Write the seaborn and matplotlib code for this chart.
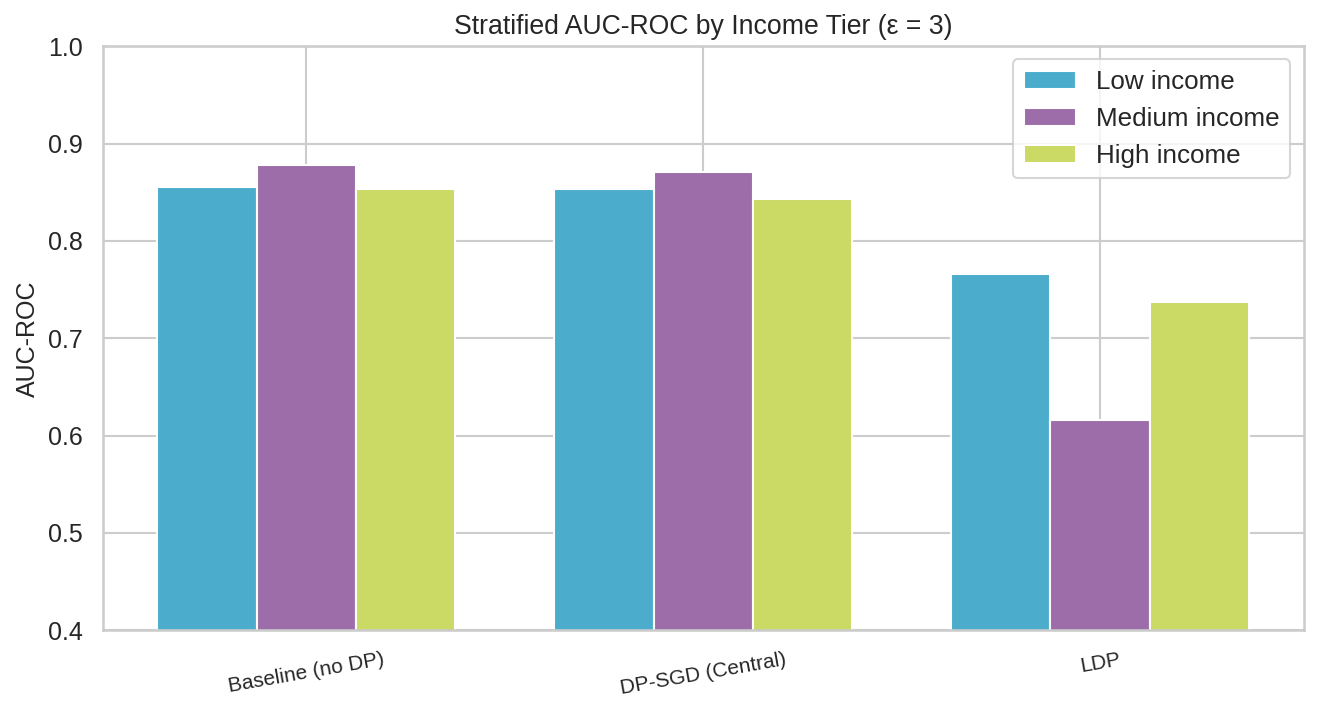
import pandas as pd
import seaborn as sns
import matplotlib.pyplot as plt

methods = ['Baseline (no DP)', 'DP-SGD (Central)', 'LDP']
tiers = ['Low income', 'Medium income', 'High income']
low_auc = [0.855, 0.853, 0.766]
medium_auc = [0.878, 0.871, 0.616]
high_auc = [0.853, 0.843, 0.737]
tier_colors = ['#4BACCC', '#9D6DAA', '#CBD965']

rows = []
for tier, vals in zip(tiers, [low_auc, medium_auc, high_auc]):
    for m, v in zip(methods, vals):
        rows.append({'Method': m, 'Tier': tier, 'AUC': v})
df = pd.DataFrame(rows)

sns.set_theme(style='whitegrid')
plt.rcParams['font.family'] = ['Liberation Sans', 'DejaVu Sans']

fig, ax = plt.subplots(figsize=(1318 / 150, 713 / 150), dpi=150)
fig.subplots_adjust(left=0.078, right=0.989, top=0.935, bottom=0.116)

sns.barplot(data=df, x='Method', y='AUC', hue='Tier', order=methods,
            hue_order=tiers, palette=tier_colors, width=0.75,
            edgecolor='white', linewidth=1, saturation=1, ax=ax)

ax.set_ylim(0.4, 1.0)
ax.set_xlim(-0.5125, 2.5125)
ax.set_xlabel('')
ax.set_ylabel('AUC-ROC', fontsize=12)
ax.set_title('Stratified AUC-ROC by Income Tier (ε = 3)', fontsize=12.8)
ax.tick_params(axis='y', labelsize=12)
ax.tick_params(axis='x', labelsize=10, rotation=10)
ax.xaxis.grid(True)
ax.legend(title='', fontsize=12.5, loc='upper right')

fig.savefig('out.png', dpi=150)
